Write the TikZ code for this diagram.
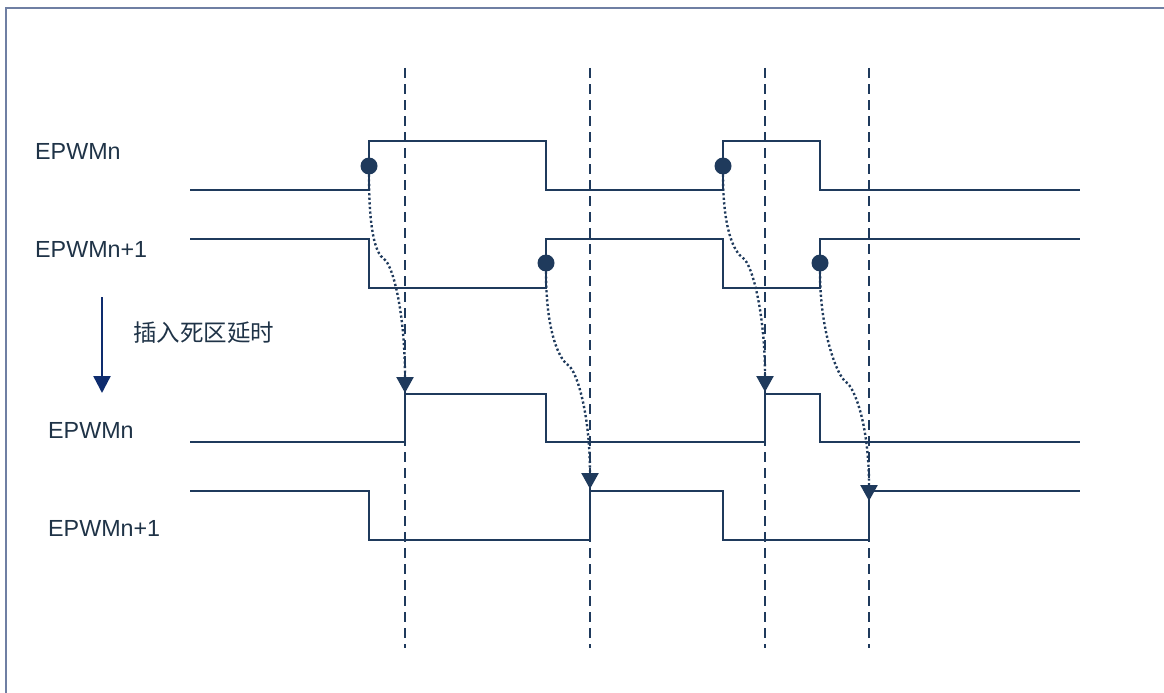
\documentclass[tikz,border=0pt]{standalone}
\usepackage{fontspec}
\setmainfont{Liberation Sans}
\newfontfamily\cjk{Noto Sans CJK SC}
\usetikzlibrary{arrows.meta}
\definecolor{sigc}{HTML}{1F3A5C}
\definecolor{txtc}{HTML}{1F3347}
\definecolor{navyc}{HTML}{0E2C6E}
\definecolor{framec}{HTML}{6F7FA3}
\tikzset{
  sig/.style={draw=sigc, line width=2.6pt},
  guide/.style={draw=sigc, line width=2.2pt, dash pattern=on 10pt off 6pt},
  dotc/.style={circle, fill=sigc, inner sep=0pt, minimum size=17pt},
  delay/.style={draw=sigc, line width=2.4pt, dash pattern=on 2.2pt off 2.4pt,
    -{Triangle[length=16pt,width=17pt]}},
  lab/.style={anchor=west, inner sep=0pt, text=txtc, font=\fontsize{23.3}{27}\selectfont},
}
\begin{document}
\begin{tikzpicture}[x=1pt,y=-1pt]
\useasboundingbox (0,0) rectangle (1164,693);
% frame
\draw[framec, line width=2.2pt] (6,693) -- (6,8) -- (1164,8);
% labels
\node[lab] (l1) at (35,151) {EPWMn};
\node[lab] (l2) at (35,249) {EPWMn+1};
\node[lab] (l3) at (48,430) {EPWMn};
\node[lab] (l4) at (48,528) {EPWMn+1};
\node[anchor=west, inner sep=0pt, text=txtc, font=\cjk\fontsize{23.5}{27}\selectfont] (ins) at (133,333) {插入死区延时};
% down arrow
\coordinate (da) at (102,297);
\coordinate (db) at (102,393);
\draw[navyc, line width=2.4pt, -{Triangle[length=17pt,width=17pt]}] (da) -- (db);
% dashed guides
\foreach \x/\n in {405/g1,590/g2,765/g3,869/g4}{
  \coordinate (\n a) at (\x,68);
  \coordinate (\n b) at (\x,648);
  \draw[guide] (\n a) -- (\n b);
}
% signals
\draw[sig] (190,190) -| (369,141) -| (546,190) -| (723,141) -| (820,190) -- (1080,190);
\draw[sig] (190,239) -| (369,288) -| (546,239) -| (723,288) -| (820,239) -- (1080,239);
\draw[sig] (190,442) -| (405,394) -| (546,442) -| (765,394) -| (820,442) -- (1080,442);
\draw[sig] (190,491) -| (369,540) -| (590,491) -| (723,540) -| (869,491) -- (1080,491);
% dots
\node[dotc] (d1) at (369,166) {};
\node[dotc] (d2) at (546,263) {};
\node[dotc] (d3) at (723,166) {};
\node[dotc] (d4) at (820,263) {};
% kinks and ends
\coordinate (m1) at (384,259);
\coordinate (m2) at (568,365);
\coordinate (m3) at (743,258);
\coordinate (m4) at (846,382);
\coordinate (e1) at (405,393);
\coordinate (e2) at (590,489);
\coordinate (e3) at (765,392);
\coordinate (e4) at (869,501);
\draw[delay] (d1.south) .. controls +(0,55) and +(-9,-6) .. (m1) .. controls +(9,6) and +(0,-80) .. (e1);
\draw[delay] (d2.south) .. controls +(0,60) and +(-9,-6) .. (m2) .. controls +(9,6) and +(0,-75) .. (e2);
\draw[delay] (d3.south) .. controls +(0,55) and +(-9,-6) .. (m3) .. controls +(9,6) and +(0,-80) .. (e3);
\draw[delay] (d4.south) .. controls +(0,60) and +(-9,-6) .. (m4) .. controls +(9,6) and +(0,-75) .. (e4);
\end{tikzpicture}
\end{document}
